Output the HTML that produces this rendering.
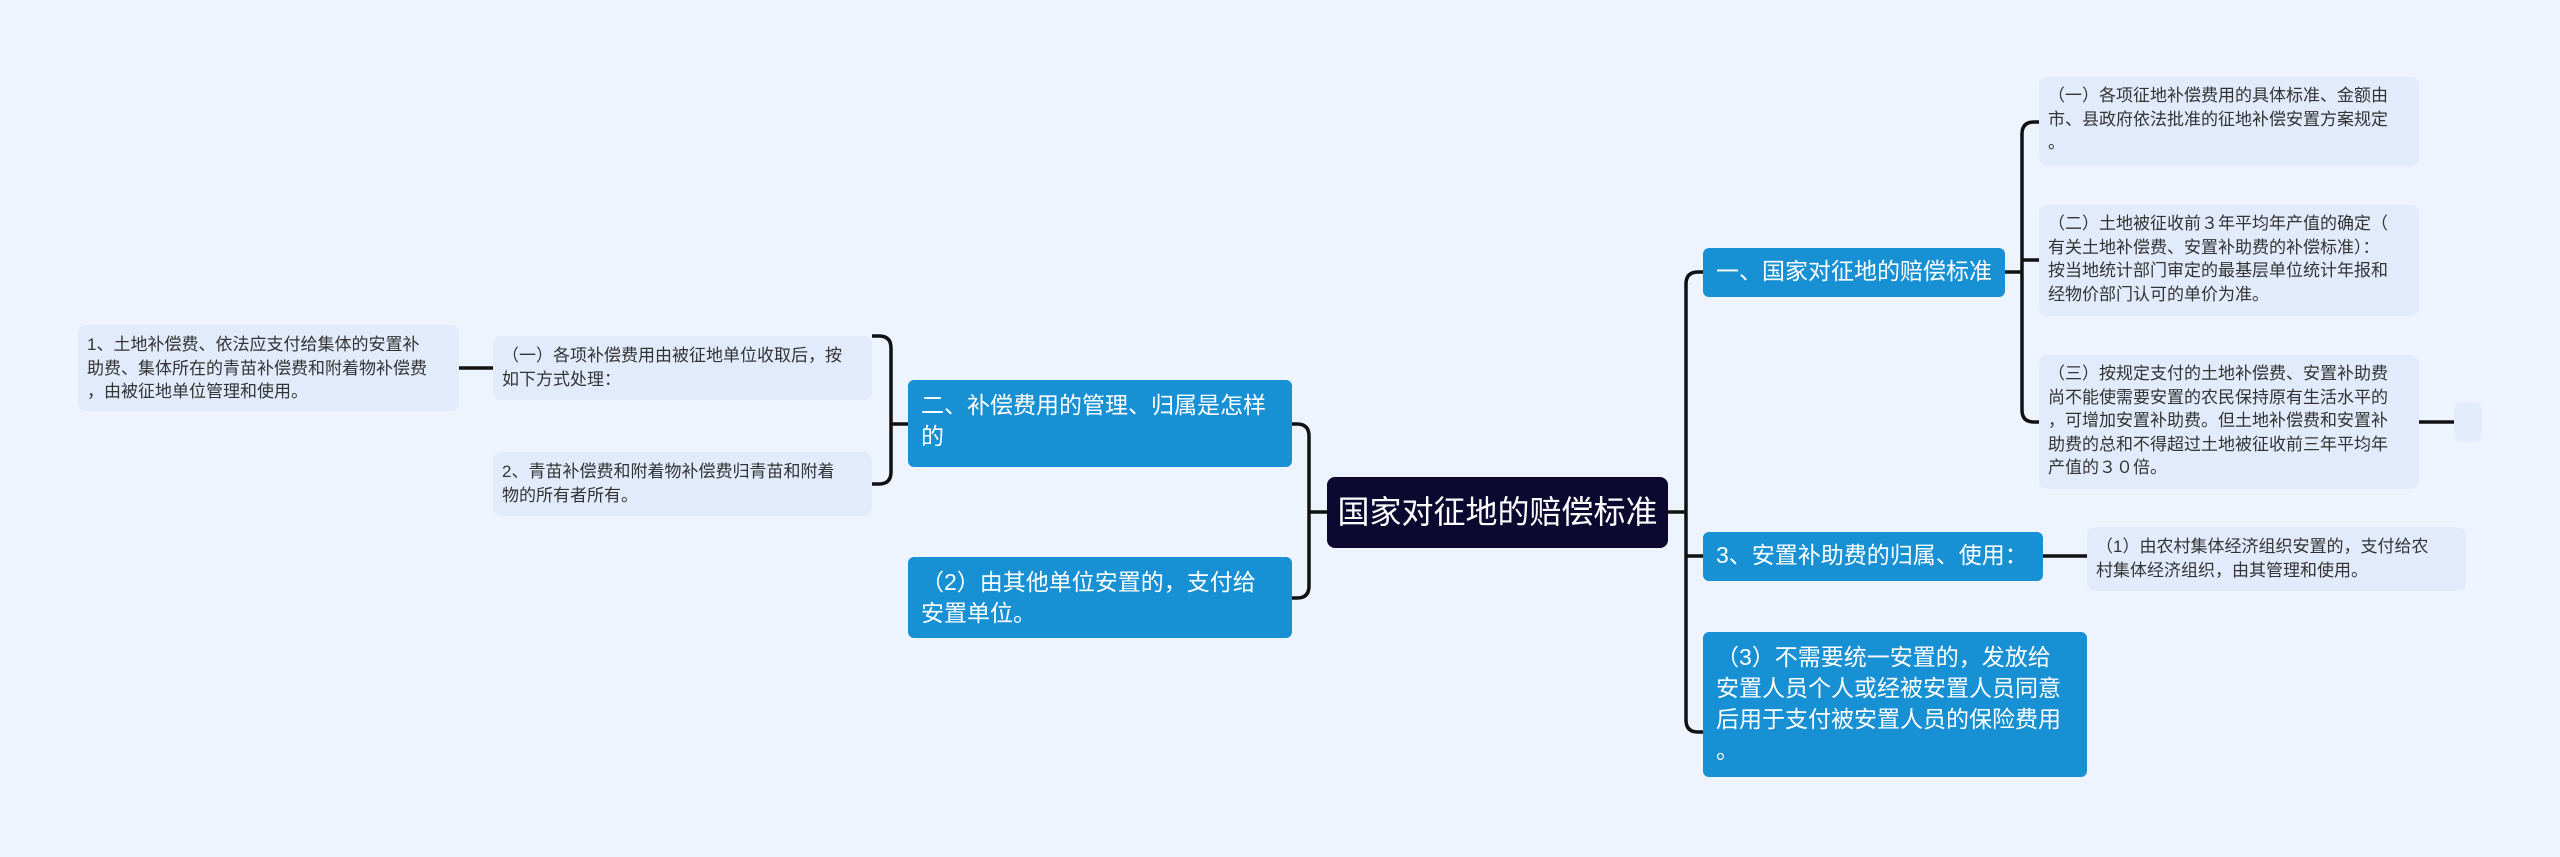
<!DOCTYPE html>
<html><head><meta charset="utf-8"><style>
body{margin:0;width:2560px;height:857px;background:#eef4fe;position:relative;overflow:hidden;font-family:"Liberation Sans","Noto Sans CJK SC",sans-serif}
.b{position:absolute;box-sizing:border-box;white-space:nowrap}
.leaf{background:#e2ebfb;border-radius:8px;color:#333;font-size:17px;line-height:23.5px;padding:7px 9px}
.l1{background:#1890d4;border-radius:6px;color:#fff;font-size:23px;line-height:31px;padding:8px 13px}
.c{background:#0c0830;border-radius:8px;color:#fff;font-size:32px;line-height:70px;text-align:center}
svg{position:absolute;left:0;top:0}
</style></head><body>
<svg width="2560" height="857" fill="none" stroke="#111" stroke-width="3.5">
<path d="M1668 512H1686M1703 272H1698Q1686 272 1686 284V720Q1686 732 1698 732H1703M1686 556H1703"/>
<path d="M1327 512H1309M1292 424H1297Q1309 424 1309 436V586Q1309 598 1297 598H1292"/>
<path d="M2005 272H2022M2039 122H2034Q2022 122 2022 134V410Q2022 422 2034 422H2039"/>
<path d="M2022 260Q2022 260 2034 260H2039"/>
<path d="M2419 422H2454M2043 556H2087"/>
<path d="M908 424H891M872 336H879Q891 336 891 348V472Q891 484 879 484H872"/>
<path d="M493 368H459"/>
</svg>
<div class="b c" style="left:1327px;top:477px;width:341px;height:71px">国家对征地的赔偿标准</div>
<div class="b l1" style="left:1703px;top:248px;width:302px;height:49px">一、国家对征地的赔偿标准</div>
<div class="b l1" style="left:1703px;top:532px;width:340px;height:49px">3、安置补助费的归属、使用：</div>
<div class="b l1" style="left:1703px;top:632px;width:384px;height:145px;line-height:31px;padding-top:10px">（3）不需要统一安置的，发放给<br>安置人员个人或经被安置人员同意<br>后用于支付被安置人员的保险费用<br>。</div>
<div class="b leaf" style="left:2039px;top:77px;width:380px;height:89px">（一）各项征地补偿费用的具体标准、金额由<br>市、县政府依法批准的征地补偿安置方案规定<br>。</div>
<div class="b leaf" style="left:2039px;top:205px;width:380px;height:111px">（二）土地被征收前３年平均年产值的确定（<br>有关土地补偿费、安置补助费的补偿标准）：<br>按当地统计部门审定的最基层单位统计年报和<br>经物价部门认可的单价为准。</div>
<div class="b leaf" style="left:2039px;top:355px;width:380px;height:134px">（三）按规定支付的土地补偿费、安置补助费<br>尚不能使需要安置的农民保持原有生活水平的<br>，可增加安置补助费。但土地补偿费和安置补<br>助费的总和不得超过土地被征收前三年平均年<br>产值的３０倍。</div>
<div class="b leaf" style="left:2454px;top:402px;width:28px;height:40px;padding:0"></div>
<div class="b leaf" style="left:2087px;top:527px;width:379px;height:64px;padding-top:8px">（1）由农村集体经济组织安置的，支付给农<br>村集体经济组织，由其管理和使用。</div>
<div class="b l1" style="left:908px;top:380px;width:384px;height:87px;padding-top:10px">二、补偿费用的管理、归属是怎样<br>的</div>
<div class="b l1" style="left:908px;top:557px;width:384px;height:81px;padding-top:10px">（2）由其他单位安置的，支付给<br>安置单位。</div>
<div class="b leaf" style="left:493px;top:336px;width:379px;height:64px;padding-top:8px">（一）各项补偿费用由被征地单位收取后，按<br>如下方式处理：</div>
<div class="b leaf" style="left:493px;top:452px;width:379px;height:64px;padding-top:8px">2、青苗补偿费和附着物补偿费归青苗和附着<br>物的所有者所有。</div>
<div class="b leaf" style="left:78px;top:325px;width:381px;height:86px;padding-top:8px">1、土地补偿费、依法应支付给集体的安置补<br>助费、集体所在的青苗补偿费和附着物补偿费<br>，由被征地单位管理和使用。</div>
</body></html>
